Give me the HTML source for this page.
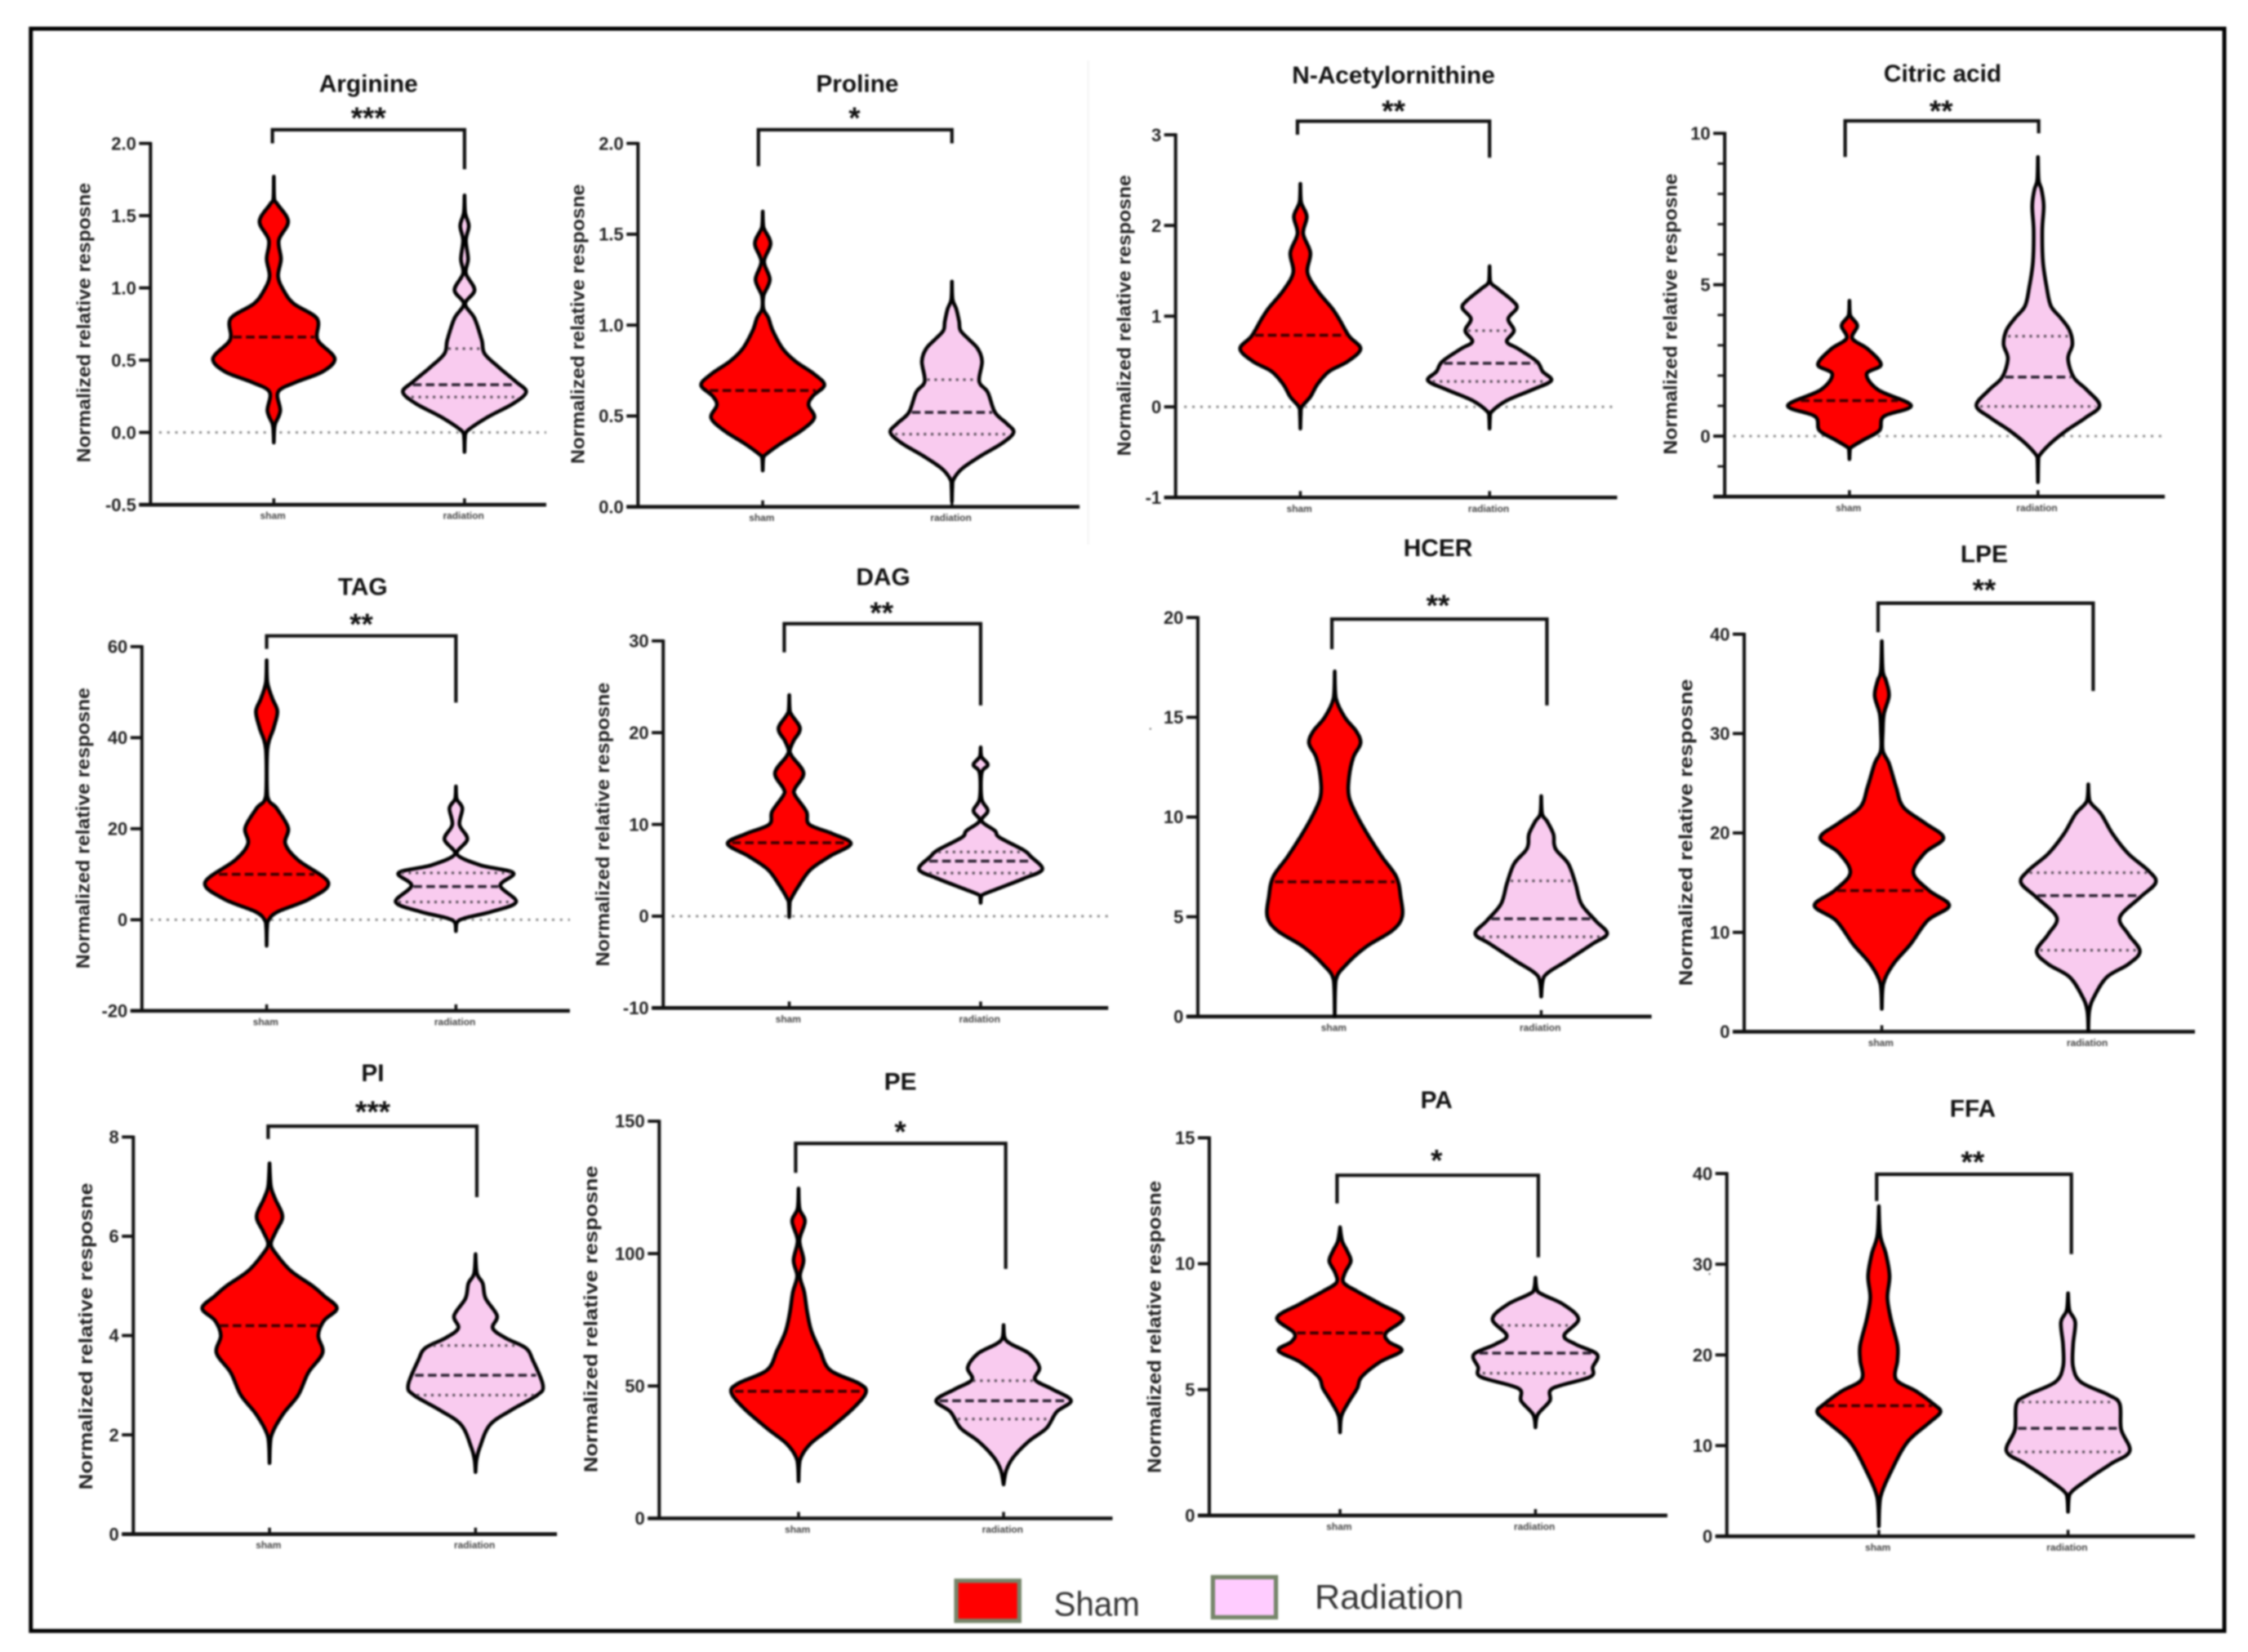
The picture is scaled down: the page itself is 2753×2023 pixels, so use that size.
<!DOCTYPE html>
<html lang="en">
<head>
<meta charset="utf-8">
<title>Normalized metabolite response: sham vs radiation</title>
<style>
html,body{margin:0;padding:0;background:#fff;}
#figure{display:block;width:2753px;height:2023px;filter:blur(1.1px);font-family:"Liberation Sans",Arial,sans-serif;}
</style>
</head>
<body>
<svg id="figure" xmlns="http://www.w3.org/2000/svg" width="2753" height="2023" viewBox="0 0 1568 1152.2">
  <rect x="0" y="0" width="1568" height="1152.2" fill="#fff"/>
  <line x1="759" y1="42" x2="759" y2="380" stroke="#f3f3f3" stroke-width="1"/>
  <rect x="21.5" y="20" width="1530" height="1117.5" fill="none" stroke="#000" stroke-width="2.8"/>
  <g id="panels"></g>
  <g>
    <rect x="667" y="1102.5" width="44" height="28" fill="#ff0000" stroke="#76856a" stroke-width="3"/>
    <text x="735" y="1127" font-size="24" fill="#333" textLength="60" lengthAdjust="spacingAndGlyphs">Sham</text>
    <rect x="846" y="1100" width="44" height="28" fill="#ffccff" stroke="#76856a" stroke-width="3"/>
    <text x="917" y="1122" font-size="24" fill="#333" textLength="104" lengthAdjust="spacingAndGlyphs">Radiation</text>
  </g>
</svg>
<script>
const categories = ['sham', 'radiation'];
const yAxisTitle = 'Normalized relative resposne';

const arginineTicks = [-0.5, 0, 0.5, 1, 1.5, 2];
const arginineShamLevels = [1.77, 1.62, 1.58, 1.46, 1.33, 1.2, 1.08, 0.98, 0.89, 0.79, 0.67, 0.62, 0.51, 0.42, 0.35, 0.28, 0.15, 0.06, 0.01, -0.07];
const arginineShamDensity = [0, 0.3, 2.5, 10, 3.5, 5, 3, 7, 14, 30, 30, 32, 42.5, 34, 16, 3, 4.5, 1, 0.3, 0];
const arginineRadiationLevels = [1.64, 1.52, 1.43, 1.33, 1.2, 1.1, 0.985, 0.89, 0.79, 0.64, 0.545, 0.45, 0.35, 0.28, 0.2, 0.105, 0.007, -0.04, -0.135];
const arginineRadiationDensity = [0, 0.5, 3, 1, 2.5, 1, 7, 0.5, 7, 12, 14, 24, 36, 43, 34, 16, 1.5, 0.3, 0];
const arginineShamMedian = [0.66];
const arginineRadiationQuartiles = [0.245, 0.33, 0.58];

const prolineTicks = [0, 0.5, 1, 1.5, 2];
const prolineShamLevels = [1.625, 1.54, 1.45, 1.35, 1.25, 1.16, 1.09, 1.04, 0.97, 0.87, 0.8, 0.73, 0.67, 0.61, 0.56, 0.49, 0.42, 0.35, 0.29, 0.27, 0.2];
const prolineShamDensity = [0, 0.5, 5.5, 1, 5, 0.5, 0.5, 4, 7, 14, 23, 36, 43, 35, 32, 36, 27, 13, 2.5, 0.5, 0];
const prolineRadiationLevels = [1.24, 1.14, 1.09, 1.02, 0.97, 0.92, 0.87, 0.8, 0.69, 0.63, 0.52, 0.46, 0.41, 0.35, 0.28, 0.21, 0.15, 0.11, 0.03];
const prolineRadiationDensity = [0, 0.5, 3, 5, 6, 12, 18, 21, 19, 25, 30, 38, 43, 35, 20, 7, 1, 0.3, 0];
const prolineShamMedian = [0.64];
const prolineRadiationQuartiles = [0.4, 0.52, 0.7];

const acetylornithineTicks = [-1, 0, 1, 2, 3];
const acetylornithineShamLevels = [2.46, 2.26, 2.1, 1.91, 1.7, 1.48, 1.28, 1.09, 0.97, 0.78, 0.64, 0.5, 0.39, 0.25, 0.11, 0, -0.08, -0.24];
const acetylornithineShamDensity = [0, 0.5, 4.5, 2, 7, 5, 12, 22, 27, 34, 42, 33, 20, 12, 7, 1, 0.3, 0];
const acetylornithineRadiationLevels = [1.55, 1.38, 1.3, 1.17, 1.09, 0.97, 0.84, 0.72, 0.64, 0.5, 0.39, 0.29, 0.19, 0.07, -0.06, -0.12, -0.24];
const acetylornithineRadiationDensity = [0, 0.5, 6, 16, 19, 13, 17, 12, 20, 33, 37, 43, 30, 12, 1, 0.3, 0];
const acetylornithineShamMedian = [0.79];
const acetylornithineRadiationQuartiles = [0.28, 0.48, 0.84];

const citricTicks = [0, 5, 10];
const citricMinorTicks = [-2, -1, 1, 2, 3, 4, 6, 7, 8, 9];
const citricShamLevels = [4.47, 4, 3.65, 3.23, 2.87, 2.36, 2.05, 1.53, 1.01, 0.65, 0.19, -0.12, -0.38, -0.49, -0.76];
const citricShamDensity = [0, 0.5, 5.5, 2, 13, 22, 12, 20, 43, 24, 21, 10, 1, 0.3, 0];
const citricRadiationLevels = [9.22, 8.45, 8.14, 7.6, 6.8, 5.76, 4.94, 4.3, 3.9, 3.5, 3.03, 2.56, 1.94, 1.53, 1.01, 0.6, 0.19, -0.23, -0.64, -0.8, -1.52];
const citricRadiationDensity = [0, 0.5, 2.5, 4, 3, 3.5, 6, 9, 16, 22, 24, 21, 25, 34, 43, 33, 20, 9, 1, 0.3, 0];
const citricShamMedian = [1.17];
const citricRadiationQuartiles = [0.98, 1.95, 3.3];

const tagTicks = [-20, 0, 20, 40, 60];
const tagShamLevels = [57, 52.2, 48.6, 45.8, 42.2, 37.3, 27.3, 24.5, 20.2, 16.7, 13.1, 8.2, 4.6, 1.8, 0, -1.8, -5.7];
const tagShamDensity = [0, 0.5, 4, 7.5, 5, 0.5, 0.5, 7, 15, 13, 22, 43, 30, 8, 1.5, 0.3, 0];
const tagRadiationLevels = [29.3, 26.6, 24.5, 20.9, 17.7, 14.5, 12, 10.3, 7.5, 3.9, 1.8, 0.35, -0.7, -2.5];
const tagRadiationDensity = [0, 0.5, 4.5, 2.5, 8, 0.5, 17, 40, 31, 42, 25, 6, 0.5, 0];
const tagShamMedian = [10];
const tagRadiationQuartiles = [3.9, 7.3, 10.3];

const dagTicks = [-10, 0, 10, 20, 30];
const dagShamLevels = [24.1, 22.3, 20.5, 19.1, 18.1, 17.4, 15.6, 13.9, 13.2, 11.4, 10, 9, 7.9, 6.5, 5.1, 3.4, 1.8, 1.3, -0.1];
const dagShamDensity = [0, 0.5, 7.5, 3, 0.5, 2, 10, 4, 4, 12, 14, 30, 43, 28, 15, 7, 1, 0.3, 0];
const dagRadiationLevels = [18.4, 17.4, 16.5, 15.6, 12.8, 11.5, 10.4, 9.3, 8.6, 7.2, 6.5, 5.1, 4.1, 3, 2.3, 2, 1.45];
const dagRadiationDensity = [0, 0.5, 5, 0.7, 0.7, 5, 0.7, 10, 13, 30, 35, 43, 30, 12, 1, 0.3, 0];
const dagShamMedian = [8];
const dagRadiationQuartiles = [4.7, 6, 7];

const hcerTicks = [0, 5, 10, 15, 20];
const hcerShamLevels = [17.3, 16, 15, 14.3, 13.7, 13, 12, 11, 10, 9, 8, 7, 6, 5, 4.3, 3.5, 2.6, 1.8, 0];
const hcerShamDensity = [0, 0.7, 7, 15, 18, 13, 10, 10, 16, 24, 33, 43, 46, 47, 40, 22, 8, 0.7, 0];
const hcerRadiationLevels = [11.05, 10.15, 9.8, 9.15, 8.65, 8.3, 7.65, 6.65, 5.65, 4.8, 4.15, 3.65, 2.8, 2, 1];
const hcerRadiationDensity = [0, 0.7, 4, 8.5, 9, 11, 19, 24, 28, 38, 46, 36, 18, 2, 0];
const hcerShamMedian = [6.75];
const hcerRadiationQuartiles = [4, 4.9, 6.8];

const lpeTicks = [0, 10, 20, 30, 40];
const lpeShamLevels = [39.3, 36.3, 35.3, 33.8, 32, 30.3, 28.3, 27, 24.6, 22.6, 21, 19.5, 18, 16, 14.2, 12.7, 11.2, 8.8, 6.8, 4.8, 2.3];
const lpeShamDensity = [0, 0.7, 3, 5, 1.5, 0.7, 0.7, 5, 10, 15, 30, 43, 30, 22, 33, 47, 32, 20, 8, 1, 0];
const lpeRadiationLevels = [24.9, 23.2, 21.9, 19.9, 17.9, 16.2, 15, 13.5, 11.5, 9.8, 8.1, 6.8, 5.5, 3.5, 2.1, 0.1];
const lpeRadiationDensity = [0, 1, 9, 17, 28, 42, 47, 36, 22, 28, 36, 28, 13, 4, 0.7, 0];
const lpeShamMedian = [14.2];
const lpeRadiationQuartiles = [8.2, 13.7, 16];

const piTicks = [0, 2, 4, 6, 8];
const piShamLevels = [7.47, 7, 6.75, 6.4, 6.1, 5.85, 5.65, 5.3, 5, 4.8, 4.55, 4.3, 4, 3.65, 3.25, 2.8, 2.4, 1.95, 1.43];
const piShamDensity = [0, 1, 4, 9, 4.5, 1, 4.5, 15, 30, 38, 47, 38, 34, 37, 27, 20, 9, 1, 0];
const piRadiationLevels = [5.64, 5.25, 5.05, 4.75, 4.4, 4.15, 3.95, 3.75, 3.5, 3, 2.8, 2.5, 2.2, 1.75, 1.5, 1.25];
const piRadiationDensity = [0, 1, 5, 7, 15, 12, 21, 35, 40, 47, 43, 25, 10, 3, 0.7, 0];
const piShamMedian = [4.2];
const piRadiationQuartiles = [2.8, 3.2, 3.8];

const peTicks = [0, 50, 100, 150];
const peShamLevels = [124.6, 117, 112.2, 105, 97.5, 91.5, 85.4, 78, 70.7, 63.4, 56, 51, 47.6, 41.5, 34, 28, 22, 14];
const peShamDensity = [0, 0.7, 4.5, 0.7, 3.5, 1, 4, 6, 9, 15, 22, 42, 47, 38, 22, 8, 1, 0];
const peRadiationLevels = [73, 68.3, 65.9, 62.2, 57, 52.4, 48.8, 44.5, 40.2, 34.1, 29.3, 23.2, 18.3, 12.8];
const peRadiationDensity = [0, 0.7, 5, 18, 25, 22, 34, 47, 37, 30, 18, 7, 2, 0];
const peShamMedian = [48];
const peRadiationQuartiles = [37.5, 44.4, 52];

const paTicks = [0, 5, 10, 15];
const paShamLevels = [11.45, 10.9, 10.5, 10.1, 9.65, 9.25, 8.9, 8.4, 7.85, 7.25, 6.9, 6.55, 6.1, 5.5, 5.05, 4.55, 3.95, 3.3];
const paShamDensity = [0, 1.5, 5, 7.5, 3.5, 2.5, 12, 28, 44, 32, 34, 43, 28, 15, 12, 6.5, 1, 0];
const paRadiationLevels = [9.45, 8.9, 8.4, 7.8, 7.15, 6.8, 6.4, 5.9, 5.5, 5.05, 4.55, 4, 3.5];
const paRadiationDensity = [0, 1.5, 19, 30, 20, 28, 43, 40, 38, 12, 10, 1.5, 0];
const paShamMedian = [7.25];
const paRadiationQuartiles = [5.65, 6.45, 7.55];

const ffaTicks = [0, 10, 20, 30, 40];
const ffaShamLevels = [36.4, 33.2, 31.1, 28.7, 26.3, 23.9, 21.1, 19.4, 17.3, 16, 14.6, 13.7, 12.5, 10.4, 7.3, 4.2, 1.1];
const ffaShamDensity = [0, 1, 5, 7.5, 6, 8.5, 13, 13, 12, 26, 38, 43, 35, 20, 9, 1, 0];
const ffaRadiationLevels = [26.8, 24.9, 23.6, 21.1, 18.7, 17, 15.6, 14.6, 11.8, 9.4, 8, 6.3, 4.6, 2.7];
const ffaRadiationDensity = [0, 1, 5, 3.5, 3.5, 9, 28, 36, 37, 43, 30, 14, 1, 0];
const ffaShamMedian = [14.4];
const ffaRadiationQuartiles = [9.3, 11.9, 14.8];

const NS = 'http://www.w3.org/2000/svg';

function mk(tag, attrs, parent) {
  const el = document.createElementNS(NS, tag);
  for (const k in attrs) el.setAttribute(k, attrs[k]);
  parent.appendChild(el);
  return el;
}

function linearScale(d0, d1, r0, r1) {
  return function (v) { return r0 + (v - d0) * (r1 - r0) / (d1 - d0); };
}

function densityAt(levels, density, v) {
  for (let i = 0; i < levels.length - 1; i++) {
    const a = levels[i], b = levels[i + 1];
    if (v <= a && v >= b) return density[i] + (density[i + 1] - density[i]) * (a - v) / (a - b);
  }
  return 0;
}

function sideCurve(pts, cx, sign) {
  let d = '';
  const clampX = function (x) { return sign > 0 ? Math.max(x, cx) : Math.min(x, cx); };
  for (let i = 0; i < pts.length - 1; i++) {
    const p0 = pts[Math.max(i - 1, 0)], p1 = pts[i], p2 = pts[i + 1], p3 = pts[Math.min(i + 2, pts.length - 1)];
    const c1x = clampX(p1[0] + (p2[0] - p0[0]) / 6), c1y = p1[1] + (p2[1] - p0[1]) / 6;
    const c2x = clampX(p2[0] - (p3[0] - p1[0]) / 6), c2y = p2[1] - (p3[1] - p1[1]) / 6;
    d += 'C' + c1x.toFixed(2) + ' ' + c1y.toFixed(2) + ' ' + c2x.toFixed(2) + ' ' + c2y.toFixed(2) + ' ' + p2[0].toFixed(2) + ' ' + p2[1].toFixed(2);
  }
  return d;
}

function violinPath(levels, density, cx, yScale) {
  const right = levels.map(function (v, i) { return [cx + density[i], yScale(v)]; });
  const left = levels.map(function (v, i) { return [cx - density[i], yScale(v)]; }).reverse();
  return 'M' + right[0][0].toFixed(2) + ' ' + right[0][1].toFixed(2) + sideCurve(right, cx, 1) + sideCurve(left, cx, -1) + 'Z';
}

function drawViolin(g, slug, levels, density, cx, yScale, fill) {
  const v = mk('path', { d: violinPath(levels, density, cx, yScale), fill: fill, stroke: '#000', 'stroke-width': 2.6, 'stroke-linejoin': 'round' }, g);
  
  
}

function drawStatLine(g, name, levels, density, cx, yScale, value, color, width, dash) {
  const hw = Math.max(densityAt(levels, density, value) - 2, 1);
  const l = mk('line', { x1: cx - hw, x2: cx + hw, y1: yScale(value), y2: yScale(value), stroke: color, 'stroke-width': width, 'stroke-dasharray': dash }, g);
  
  
}

function drawPanel(p) {
  const root = document.getElementById('panels');
  const g = mk('g', {}, root);
  
  

  const lo = Math.min.apply(null, p.ticks.concat(p.minor || []));
  const hi = Math.max.apply(null, p.ticks.concat(p.minor || []));
  const y = linearScale(lo, hi, p.bottom, p.top);

  const title = mk('text', { x: p.titleX, y: p.titleY + 6, 'text-anchor': 'middle', 'font-size': 17, 'font-weight': 'bold', fill: '#111' }, g);
  title.textContent = p.title;
  
  

  if (p.showZero) {
    const zero = mk('line', { x1: p.axisX + 6, x2: p.end, y1: y(0), y2: y(0), stroke: '#888', 'stroke-width': 1.6, 'stroke-dasharray': '1.7 3.9' }, g);
    
    
  }

  const yAxis = mk('line', { x1: p.axisX, x2: p.axisX, y1: p.top - 1, y2: p.bottom, stroke: '#111', 'stroke-width': 2.3 }, g);
  
  

  const xAxis = mk('line', { x1: p.axisX - 8, x2: p.end, y1: p.bottom, y2: p.bottom, stroke: '#111', 'stroke-width': 2.6 }, g);
  
  

  p.ticks.forEach(function (t) {
    const tick = mk('line', { x1: p.axisX - 8, x2: p.axisX, y1: y(t), y2: y(t), stroke: '#111', 'stroke-width': 2.2 }, g);
    
    
    const label = mk('text', { x: p.axisX - 10, y: y(t) + 4.4, 'text-anchor': 'end', 'font-size': 12.5, 'font-weight': 'bold', fill: '#222' }, g);
    label.textContent = t.toFixed(p.decimals);
    
    
  });

  (p.minor || []).forEach(function (t) {
    const tick = mk('line', { x1: p.axisX - 5, x2: p.axisX, y1: y(t), y2: y(t), stroke: '#111', 'stroke-width': 1.6 }, g);
    
    
  });

  if (p.labelLen) {
    const yl = mk('text', { transform: 'translate(' + (p.labelX + 4.5) + ' ' + p.labelY + ') rotate(-90)', 'text-anchor': 'middle', 'font-size': 13, 'font-weight': 'bold', fill: '#222', textLength: p.labelLen, lengthAdjust: 'spacingAndGlyphs' }, g);
    yl.textContent = yAxisTitle;
    
    
  }

  [p.shamX, p.radX].forEach(function (cx, i) {
    const stub = mk('line', { x1: cx, x2: cx, y1: p.bottom - 4.5, y2: p.bottom, stroke: '#111', 'stroke-width': 2 }, g);
    
    
    const cat = mk('text', { x: cx - 0.7, y: p.bottom + 10, 'text-anchor': 'middle', 'font-size': 6.8, 'font-weight': 'bold', fill: '#444' }, g);
    cat.textContent = categories[i];
    
    
  });

  drawViolin(g, p.slug + '-sham', p.shamLevels, p.shamDensity, p.shamX, y, '#ff0000');
  drawViolin(g, p.slug + '-radiation', p.radLevels, p.radDensity, p.radX, y, '#f9cbef');

  p.shamMedian.forEach(function (m) {
    drawStatLine(g, p.slug + '-sham-median', p.shamLevels, p.shamDensity, p.shamX, y, m, '#3a0000', 2, '6 3');
  });
  p.radQuartiles.forEach(function (q, i) {
    if (i === 1) {
      drawStatLine(g, p.slug + '-radiation-median', p.radLevels, p.radDensity, p.radX, y, q, '#2a2030', 2, '6 3');
    } else {
      drawStatLine(g, p.slug + '-radiation-quartile', p.radLevels, p.radDensity, p.radX, y, q, '#554a55', 1.8, '1.7 3.3');
    }
  });

  const bracket = mk('path', { d: 'M' + p.bracketL + ' ' + p.dropL + 'V' + p.bracketY + 'H' + p.bracketR + 'V' + p.dropR, fill: 'none', stroke: '#111', 'stroke-width': 2.4 }, g);
  
  

  const stars = mk('text', { x: p.starsX, y: p.starsY + 9.5, 'text-anchor': 'middle', 'font-size': 21, 'font-weight': 'bold', fill: '#111' }, g);
  stars.textContent = p.stars;
  
  

  if (p.stray) {
    const stray = mk('text', { x: p.stray[0], y: p.stray[1], 'font-size': 10, fill: '#444' }, g);
    stray.textContent = '.';
    
    
  }
}

drawPanel({ slug: 'arginine', title: 'Arginine', stars: '***', decimals: 1, showZero: true, ticks: arginineTicks,
  shamLevels: arginineShamLevels, shamDensity: arginineShamDensity, radLevels: arginineRadiationLevels, radDensity: arginineRadiationDensity, shamMedian: arginineShamMedian, radQuartiles: arginineRadiationQuartiles,
  axisX: 105, top: 100, bottom: 352, end: 381, shamX: 191, radX: 324, titleX: 257, titleY: 58, starsX: 257, starsY: 80, bracketY: 90.5, bracketL: 190, bracketR: 324, dropL: 100, dropR: 118, labelX: 58.5, labelY: 225, labelLen: 195 });

drawPanel({ slug: 'proline', title: 'Proline', stars: '*', decimals: 1, ticks: prolineTicks,
  shamLevels: prolineShamLevels, shamDensity: prolineShamDensity, radLevels: prolineRadiationLevels, radDensity: prolineRadiationDensity, shamMedian: prolineShamMedian, radQuartiles: prolineRadiationQuartiles,
  axisX: 445, top: 100, bottom: 353.5, end: 753, shamX: 532, radX: 664, titleX: 598, titleY: 58, starsX: 596, starsY: 80, bracketY: 90.5, bracketL: 529, bracketR: 664, dropL: 116, dropR: 100, labelX: 403, labelY: 226, labelLen: 195 });

drawPanel({ slug: 'n-acetylornithine', title: 'N-Acetylornithine', stars: '**', decimals: 0, showZero: true, ticks: acetylornithineTicks,
  shamLevels: acetylornithineShamLevels, shamDensity: acetylornithineShamDensity, radLevels: acetylornithineRadiationLevels, radDensity: acetylornithineRadiationDensity, shamMedian: acetylornithineShamMedian, radQuartiles: acetylornithineRadiationQuartiles,
  axisX: 820, top: 94, bottom: 347, end: 1128, shamX: 907, radX: 1039, titleX: 972, titleY: 52, starsX: 972, starsY: 75, bracketY: 84.5, bracketL: 905, bracketR: 1039, dropL: 94, dropR: 110, labelX: 784, labelY: 220, labelLen: 196 });

drawPanel({ slug: 'citric-acid', title: 'Citric acid', stars: '**', decimals: 0, showZero: true, ticks: citricTicks, minor: citricMinorTicks,
  shamLevels: citricShamLevels, shamDensity: citricShamDensity, radLevels: citricRadiationLevels, radDensity: citricRadiationDensity, shamMedian: citricShamMedian, radQuartiles: citricRadiationQuartiles,
  axisX: 1203, top: 93, bottom: 346.4, end: 1510, shamX: 1290, radX: 1421.5, titleX: 1355, titleY: 51, starsX: 1354, starsY: 75, bracketY: 84.3, bracketL: 1287, bracketR: 1422, dropL: 109.5, dropR: 93, labelX: 1165, labelY: 219, labelLen: 196 });

drawPanel({ slug: 'tag', title: 'TAG', stars: '**', decimals: 0, showZero: true, ticks: tagTicks,
  shamLevels: tagShamLevels, shamDensity: tagShamDensity, radLevels: tagRadiationLevels, radDensity: tagRadiationDensity, shamMedian: tagShamMedian, radQuartiles: tagRadiationQuartiles,
  axisX: 99, top: 451, bottom: 705, end: 397.5, shamX: 186, radX: 318, titleX: 253, titleY: 409, starsX: 252, starsY: 433, bracketY: 443.5, bracketL: 186, bracketR: 318, dropL: 452.6, dropR: 490, labelX: 57.8, labelY: 577.6, labelLen: 196 });

drawPanel({ slug: 'dag', title: 'DAG', stars: '**', decimals: 0, showZero: true, ticks: dagTicks,
  shamLevels: dagShamLevels, shamDensity: dagShamDensity, radLevels: dagRadiationLevels, radDensity: dagRadiationDensity, shamMedian: dagShamMedian, radQuartiles: dagRadiationQuartiles,
  axisX: 462.6, top: 447, bottom: 703, end: 773, shamX: 550.5, radX: 684, titleX: 616, titleY: 402, starsX: 615, starsY: 425, bracketY: 435, bracketL: 547, bracketR: 684, dropL: 455, dropR: 492, labelX: 420.5, labelY: 575, labelLen: 198 });

drawPanel({ slug: 'hcer', title: 'HCER', stars: '**', decimals: 0, ticks: hcerTicks, stray: [801, 509],
  shamLevels: hcerShamLevels, shamDensity: hcerShamDensity, radLevels: hcerRadiationLevels, radDensity: hcerRadiationDensity, shamMedian: hcerShamMedian, radQuartiles: hcerRadiationQuartiles,
  axisX: 835.5, top: 430.7, bottom: 709, end: 1152, shamX: 931, radX: 1075, titleX: 1003, titleY: 382, starsX: 1003, starsY: 420, bracketY: 431.8, bracketL: 929, bracketR: 1079, dropL: 452.8, dropR: 492 });

drawPanel({ slug: 'lpe', title: 'LPE', stars: '**', decimals: 0, ticks: lpeTicks,
  shamLevels: lpeShamLevels, shamDensity: lpeShamDensity, radLevels: lpeRadiationLevels, radDensity: lpeRadiationDensity, shamMedian: lpeShamMedian, radQuartiles: lpeRadiationQuartiles,
  axisX: 1216.6, top: 442.3, bottom: 719.6, end: 1531, shamX: 1312.6, radX: 1456.6, titleX: 1384, titleY: 386, starsX: 1384, starsY: 409, bracketY: 420.7, bracketL: 1310, bracketR: 1460, dropL: 441, dropR: 482, labelX: 1176, labelY: 580.6, labelLen: 214 });

drawPanel({ slug: 'pi', title: 'PI', stars: '***', decimals: 0, ticks: piTicks,
  shamLevels: piShamLevels, shamDensity: piShamDensity, radLevels: piRadiationLevels, radDensity: piRadiationDensity, shamMedian: piShamMedian, radQuartiles: piRadiationQuartiles,
  axisX: 93, top: 793, bottom: 1070, end: 388.5, shamX: 188, radX: 331.7, titleX: 260, titleY: 748, starsX: 260, starsY: 773, bracketY: 785.5, bracketL: 187, bracketR: 332.6, dropL: 794.4, dropR: 835, labelX: 60, labelY: 932, labelLen: 214 });

drawPanel({ slug: 'pe', title: 'PE', stars: '*', decimals: 0, ticks: peTicks,
  shamLevels: peShamLevels, shamDensity: peShamDensity, radLevels: peRadiationLevels, radDensity: peRadiationDensity, shamMedian: peShamMedian, radQuartiles: peRadiationQuartiles,
  axisX: 459.8, top: 782, bottom: 1059, end: 776, shamX: 557, radX: 700, titleX: 628, titleY: 754, starsX: 628, starsY: 787, bracketY: 797.5, bracketL: 555, bracketR: 701.5, dropL: 818, dropR: 885, labelX: 412, labelY: 920, labelLen: 214 });

drawPanel({ slug: 'pa', title: 'PA', stars: '*', decimals: 0, ticks: paTicks,
  shamLevels: paShamLevels, shamDensity: paShamDensity, radLevels: paRadiationLevels, radDensity: paRadiationDensity, shamMedian: paShamMedian, radQuartiles: paRadiationQuartiles,
  axisX: 843.5, top: 793.6, bottom: 1057, end: 1163, shamX: 934.7, radX: 1071, titleX: 1002, titleY: 767, starsX: 1002, starsY: 807, bracketY: 819.7, bracketL: 932.6, bracketR: 1073, dropL: 839.4, dropR: 877, labelX: 805, labelY: 925.5, labelLen: 204 });

drawPanel({ slug: 'ffa', title: 'FFA', stars: '**', decimals: 0, ticks: ffaTicks, stray: [1191, 889],
  shamLevels: ffaShamLevels, shamDensity: ffaShamDensity, radLevels: ffaRadiationLevels, radDensity: ffaRadiationDensity, shamMedian: ffaShamMedian, radQuartiles: ffaRadiationQuartiles,
  axisX: 1204.5, top: 818.5, bottom: 1071.5, end: 1531, shamX: 1310.5, radX: 1442.5, titleX: 1376, titleY: 773, starsX: 1376, starsY: 808, bracketY: 819, bracketL: 1309, bracketR: 1444.8, dropL: 837.7, dropR: 874.7 });
</script>
</body>
</html>
